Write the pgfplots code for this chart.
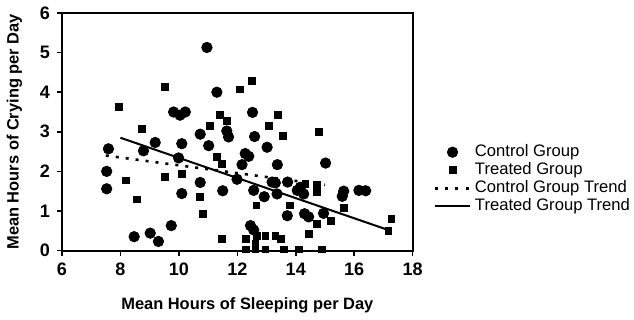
\documentclass[border=0pt]{standalone}
\usepackage{pgfplots}
\pgfplotsset{compat=1.18}
\usepackage{fontspec}
\setmainfont{Liberation Sans}
\begin{document}
\begin{tikzpicture}
\begin{axis}[
  scale only axis,
  width=175pt, height=118.5pt,
  xmin=6, xmax=18, ymin=0, ymax=6,
  xtick={6,8,...,18}, ytick={0,1,...,6},
  axis line style={line width=1pt},
  tick style={line width=0.8pt, black},
  tick align=outside, major tick length=2.5pt,
  xtick pos=bottom, ytick pos=left,
  /pgf/number format/assume math mode=true,
  ticklabel style={font=\fontsize{9}{10}\selectfont\bfseries},
  xlabel={Mean Hours of Sleeping per Day},
  ylabel={Mean Hours of Crying per Day},
  label style={font=\fontsize{8.2}{9}\selectfont\bfseries},
  xlabel style={yshift=-4pt, xshift=5pt},
  ylabel style={yshift=2pt},
  legend style={draw=none, fill=none, at={(1.06,0.30)}, anchor=west,
    font=\fontsize{8.3}{9}\selectfont, row sep=-2.5pt, inner sep=0pt},
  legend cell align=left,
]
\addplot[only marks, mark=*, mark size=2.6pt, black] coordinates {
(7.59,2.57)(7.53,2.0)(7.53,1.56)(8.47,0.35)(9.02,0.44)(9.30,0.23)(9.74,0.63)
(8.79,2.52)(9.19,2.73)(9.99,2.34)(10.1,2.7)(10.1,1.44)(9.82,3.5)(10.04,3.42)
(10.22,3.5)(10.73,2.94)(10.96,5.13)(11.3,4.0)(11.02,2.65)(11.64,3.02)(11.7,2.87)
(10.73,1.72)(11.5,1.51)(12.52,3.49)(12.59,2.88)(13.02,2.61)(12.27,2.45)(12.39,2.38)
(12.16,2.17)(11.99,1.8)(13.37,2.17)(12.56,1.52)(12.92,1.36)(13.19,1.73)(13.3,1.71)
(13.36,1.43)(13.72,1.73)(14.16,1.6)(14.05,1.52)(14.27,1.43)(15.02,2.21)(15.59,1.37)
(15.64,1.5)(16.16,1.52)(16.39,1.51)(13.71,0.88)(14.3,0.93)(14.44,0.85)(14.95,0.94)
(12.45,0.63)(12.56,0.52)
};
\addlegendentry{Control Group}
\addplot[only marks, mark=square*, mark size=1.7pt, black] coordinates {
(7.96,3.63)(8.73,3.07)(9.53,4.13)(11.07,3.14)(11.39,3.42)(11.65,3.28)(12.1,4.07)
(12.51,4.28)(13.08,3.15)(13.39,3.42)(13.55,2.9)(14.8,3.0)(8.18,1.77)(8.56,1.29)
(9.53,1.86)(10.1,1.94)(10.73,1.35)(10.83,0.93)(11.3,2.37)(11.47,2.19)
(12.65,1.14)(13.79,1.14)(15.64,1.07)(15.2,0.74)(14.73,0.67)(14.46,0.42)
(14.33,1.69)(14.73,1.66)(14.73,1.48)(17.27,0.79)(17.17,0.5)(11.47,0.3)(12.3,0.3)
(12.67,0.36)(12.96,0.36)(13.3,0.36)(13.5,0.3)(12.62,0.17)(12.28,0.03)(12.62,0.03)
(12.96,0.03)(13.6,0.03)(14.1,0.03)(14.88,0.03)
};
\addlegendentry{Treated Group}
\addplot[black, line width=1.3pt, dash pattern=on 1.5pt off 3.5pt] coordinates {(7.5,2.40)(15,1.66)};
\addlegendentry{Control Group Trend}
\addplot[black, line width=1pt] coordinates {(8,2.85)(17.2,0.51)};
\addlegendentry{Treated Group Trend}
\end{axis}
\end{tikzpicture}
\end{document}
